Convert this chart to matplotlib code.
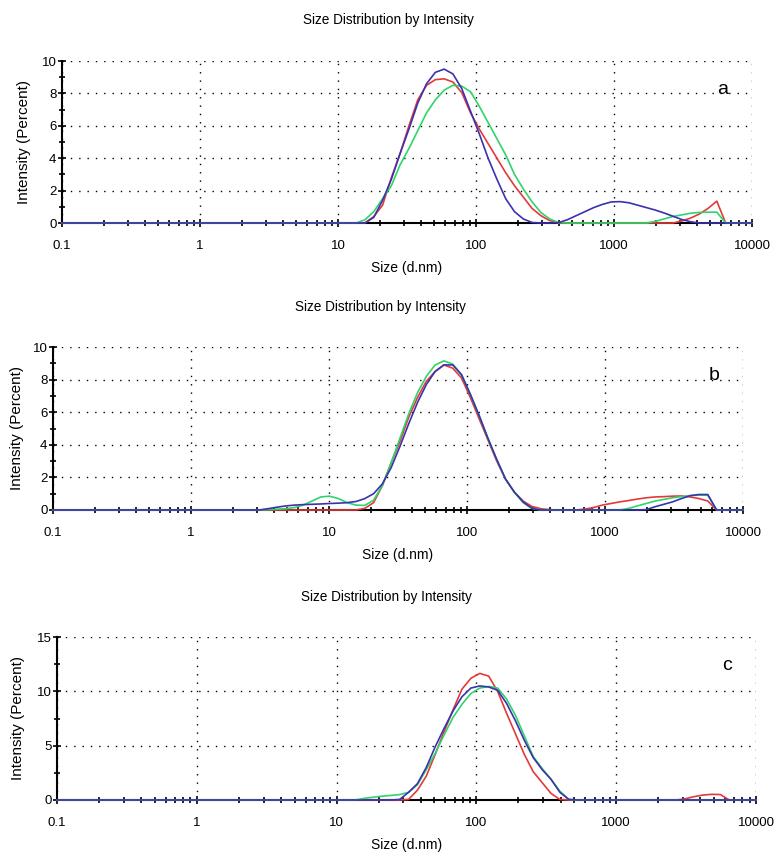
import matplotlib
matplotlib.use('Agg')
import matplotlib.pyplot as plt
from matplotlib.ticker import FixedLocator, NullFormatter

plt.rcParams['font.family'] = ['Liberation Sans', 'DejaVu Sans']

# size bins (d.nm)
size_nm = [0.1, 3.122, 3.615, 4.187, 4.849, 5.615, 6.503, 7.531,
           8.721, 10.10, 11.70, 13.54, 15.69, 18.17, 21.04, 24.36,
           28.21, 32.67, 37.84, 43.82, 50.75, 58.77, 68.06, 78.82,
           91.28, 105.7, 122.4, 141.8, 164.2, 190.1, 220.2, 255.0,
           295.3, 342.0, 396.1, 458.7, 531.2, 615.1, 712.4, 825.0,
           955.4, 1106, 1281, 1484, 1718, 1990, 2305, 2669,
           3091, 3580, 4145, 4801, 5560, 6439, 7456, 8635,
           10000]

# panel a
a_red = [0, 0, 0, 0, 0, 0, 0, 0,
         0, 0, 0, 0, 0, 0.4, 1.1, 2.8,
         4.3, 6.0, 7.6, 8.5, 8.85, 8.9, 8.7, 8.05,
         6.8, 5.8, 4.9, 4.0, 3.1, 2.3, 1.6, 0.9,
         0.45, 0.15, 0, 0, 0, 0, 0, 0,
         0, 0, 0, 0, 0, 0, 0, 0,
         0.12, 0.3, 0.55, 0.9, 1.35, 0, 0, 0,
         0]
a_green = [0, 0, 0, 0, 0, 0, 0, 0,
           0, 0, 0, 0, 0.2, 0.7, 1.5, 2.3,
           3.6, 4.6, 5.7, 6.8, 7.6, 8.2, 8.5, 8.45,
           8.1, 7.2, 6.2, 5.2, 4.2, 3.0, 2.1, 1.3,
           0.65, 0.25, 0.03, 0, 0, 0, 0, 0,
           0, 0, 0, 0, 0, 0.1, 0.25, 0.4,
           0.5, 0.6, 0.65, 0.67, 0.67, 0, 0, 0,
           0]
a_blue = [0, 0, 0, 0, 0, 0, 0, 0,
          0, 0, 0, 0, 0, 0.35, 1.4, 2.7,
          4.3, 5.8, 7.4, 8.6, 9.3, 9.5, 9.2, 8.3,
          6.9, 5.5, 4.0, 2.7, 1.5, 0.7, 0.25, 0.03,
          0, 0, 0.02, 0.2, 0.45, 0.7, 0.95, 1.15,
          1.3, 1.32, 1.25, 1.1, 0.95, 0.8, 0.62, 0.42,
          0.22, 0.08, 0, 0, 0, 0, 0, 0,
          0]

# panel b
b_red = [0, 0, 0, 0, 0, 0, 0, 0,
         0, 0, 0, 0, 0, 0.1, 0.45, 1.5,
         2.9, 4.2, 5.7, 6.9, 7.9, 8.5, 8.9, 8.7,
         8.1, 6.9, 5.6, 4.3, 3.0, 1.9, 1.1, 0.55,
         0.22, 0.08, 0.02, 0, 0, 0, 0.05, 0.15,
         0.3, 0.4, 0.5, 0.58, 0.67, 0.75, 0.8, 0.82,
         0.85, 0.86, 0.8, 0.7, 0.55, 0, 0, 0,
         0]
b_green = [0, 0, 0.02, 0.05, 0.08, 0.15, 0.3, 0.55,
           0.8, 0.85, 0.7, 0.45, 0.3, 0.28, 0.6, 1.5,
           2.9, 4.4, 5.9, 7.2, 8.2, 8.9, 9.15, 8.95,
           8.3, 7.1, 5.8, 4.4, 3.1, 1.9, 1.1, 0.45,
           0.1, 0, 0, 0, 0, 0, 0, 0,
           0, 0, 0, 0.1, 0.25, 0.4, 0.55, 0.65,
           0.75, 0.82, 0.88, 0.92, 0.9, 0, 0, 0,
           0]
b_blue = [0, 0, 0.08, 0.17, 0.25, 0.3, 0.33, 0.35,
          0.37, 0.4, 0.42, 0.45, 0.52, 0.7, 1.0, 1.6,
          2.6, 3.9, 5.3, 6.6, 7.7, 8.5, 8.9, 8.9,
          8.3, 7.1, 5.8, 4.4, 3.1, 1.9, 1.1, 0.5,
          0.1, 0, 0, 0, 0, 0, 0, 0,
          0, 0, 0, 0, 0, 0.02, 0.2, 0.35,
          0.5, 0.7, 0.88, 0.95, 0.95, 0, 0, 0,
          0]

# panel c
c_red = [0, 0, 0, 0, 0, 0, 0, 0,
         0, 0, 0, 0, 0, 0, 0, 0,
         0, 0.05, 0.9, 2.2, 4.2, 6.3, 8.3, 10.2,
         11.2, 11.65, 11.4, 10.0, 8.0, 6.1, 4.2, 2.6,
         1.6, 0.6, 0.05, 0, 0, 0, 0, 0,
         0, 0, 0, 0, 0, 0, 0, 0,
         0.1, 0.3, 0.45, 0.52, 0.5, 0, 0, 0,
         0]
c_green = [0, 0, 0, 0, 0, 0, 0, 0,
           0, 0, 0, 0, 0.15, 0.25, 0.35, 0.42,
           0.5, 0.7, 1.4, 2.8, 4.3, 6.0, 7.6, 8.8,
           9.8, 10.3, 10.45, 10.3, 9.3, 7.8, 5.9, 4.0,
           2.9, 1.9, 0.8, 0.05, 0, 0, 0, 0,
           0, 0, 0, 0, 0, 0, 0, 0,
           0, 0, 0, 0, 0, 0, 0, 0,
           0]
c_blue = [0, 0, 0, 0, 0, 0, 0, 0,
          0, 0, 0, 0, 0, 0, 0, 0,
          0.05, 0.7, 1.5, 3.0, 4.9, 6.6, 8.2, 9.5,
          10.3, 10.5, 10.4, 10.1, 8.9, 7.3, 5.5, 3.9,
          2.8, 1.9, 0.7, 0.05, 0, 0, 0, 0,
          0, 0, 0, 0, 0, 0, 0, 0,
          0, 0, 0, 0, 0, 0, 0, 0,
          0]

x_major = [0.1, 1, 10, 100, 1000, 10000]
x_labels = ['0.1', '1', '10', '100', '1000', '10000']

RED = '#e23a3a'
GREEN = '#2fd46a'
BLUE = '#3a32ae'
W, H = 779, 861


def panel(fig, box, red, green, blue, ymax, ystep, letter, title_x, title_y, ylab_x):
    left, top, right, bottom = box
    ax = fig.add_axes([left / W, 1 - bottom / H, (right - left) / W, (bottom - top) / H])
    for vals, col in [(red, RED), (green, GREEN), (blue, BLUE)]:
        ax.plot(size_nm, vals, color=col, lw=1.2, clip_on=False, zorder=3)
    ax.set_xscale('log')
    ax.set_xlim(0.1, 10000)
    ax.set_ylim(0, ymax)

    ax.xaxis.set_major_locator(FixedLocator(x_major))
    ax.set_xticklabels(x_labels)
    minors = [m * d for d in [0.1, 1, 10, 100, 1000] for m in range(2, 10)]
    ax.xaxis.set_minor_locator(FixedLocator(minors))
    ax.xaxis.set_minor_formatter(NullFormatter())
    yt = [i * ystep for i in range(int(ymax / ystep) + 1)]
    ax.set_yticks(yt)
    ax.set_yticklabels([str(int(v)) for v in yt])
    ax.yaxis.set_minor_locator(FixedLocator([v + ystep / 2 for v in yt[:-1]]))

    ax.tick_params(which='major', direction='inout', length=6, width=1.2, labelsize=9.5, color='black')
    ax.tick_params(which='minor', direction='inout', length=4, width=1.2, color='black')
    ax.tick_params(axis='x', which='major', pad=9)
    ax.tick_params(axis='y', which='major', pad=1)

    ax.grid(which='major', color='black', linestyle=(0, (1, 5)), linewidth=1.0)
    for s in ['top', 'right']:
        ax.spines[s].set_visible(False)
    for s in ['left', 'bottom']:
        ax.spines[s].set_linewidth(1.5)

    pw, ph = right - left, bottom - top
    ax.text(0.5, -45 / ph, 'Size (d.nm)', transform=ax.transAxes, ha='center', va='center', fontsize=10)
    ax.text(-(left - ylab_x) / pw, 0.5, 'Intensity (Percent)', transform=ax.transAxes,
            rotation=90, ha='center', va='center', fontsize=11)
    ax.text(0.958, 0.825, letter, transform=ax.transAxes, ha='center', va='center', fontsize=14)
    fig.text(title_x / W, 1 - title_y / H, 'Size Distribution by Intensity', ha='center', va='center', fontsize=9.8)
    return ax


fig = plt.figure(figsize=(W / 100, H / 100), dpi=100)
panel(fig, (62, 61, 752, 223), a_red, a_green, a_blue, 10, 2, 'a', 388, 20, 24)
panel(fig, (53, 347, 743, 510), b_red, b_green, b_blue, 10, 2, 'b', 380, 307, 17)
panel(fig, (57, 637, 756, 800), c_red, c_green, c_blue, 15, 5, 'c', 386, 597, 18)
fig.savefig('out.png', dpi=100)
